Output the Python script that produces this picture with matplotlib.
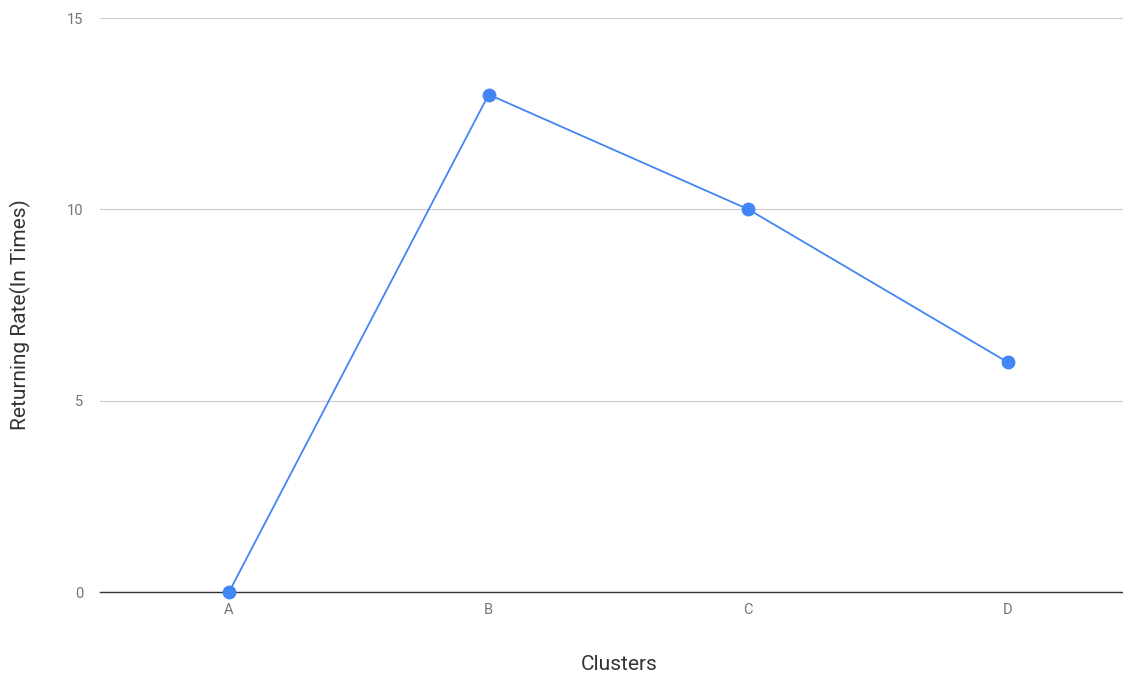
import matplotlib.pyplot as plt

plt.rcParams['font.family'] = ['Roboto', 'DejaVu Sans']

clusters = ['A', 'B', 'C', 'D']
returning_rate = [0, 13, 10, 6]
y_ticks = [0, 5, 10, 15]

fig = plt.figure(figsize=(11.23, 6.75), dpi=100)
ax = fig.add_axes([100 / 1123, 83 / 675, 1023 / 1123, 574 / 675])

x = list(range(len(clusters)))
ax.plot(x, returning_rate, color='#4285F4', linewidth=1.3, marker='o',
        markersize=10, markeredgewidth=0, zorder=4, clip_on=False)

ax.set_xlim(-0.497, 3.443)
ax.set_ylim(0, 15)
ax.set_xticks(x)
ax.set_xticklabels(clusters)
ax.set_yticks(y_ticks)

# light horizontal grid, dark baseline at zero
ax.set_axisbelow(True)
ax.grid(axis='y', color='#cccccc', linewidth=0.8)
ax.axhline(0, color='#333333', linewidth=1, zorder=3, clip_on=False)
for side in ['top', 'right', 'left', 'bottom']:
    ax.spines[side].set_visible(False)

ax.tick_params(axis='both', length=0, labelsize=10.5, labelcolor='#757575')
ax.tick_params(axis='x', pad=8)
ax.tick_params(axis='y', pad=12)

fig.text(619 / 1123, 1 - 664 / 675, 'Clusters', ha='center', va='center',
         fontsize=15, color='#333333')
fig.text(20 / 1123, 1 - 315 / 675, 'Returning Rate(In Times)', ha='center',
         va='center', rotation=90, fontsize=15, color='#333333')

fig.savefig('out.png', dpi=100)
